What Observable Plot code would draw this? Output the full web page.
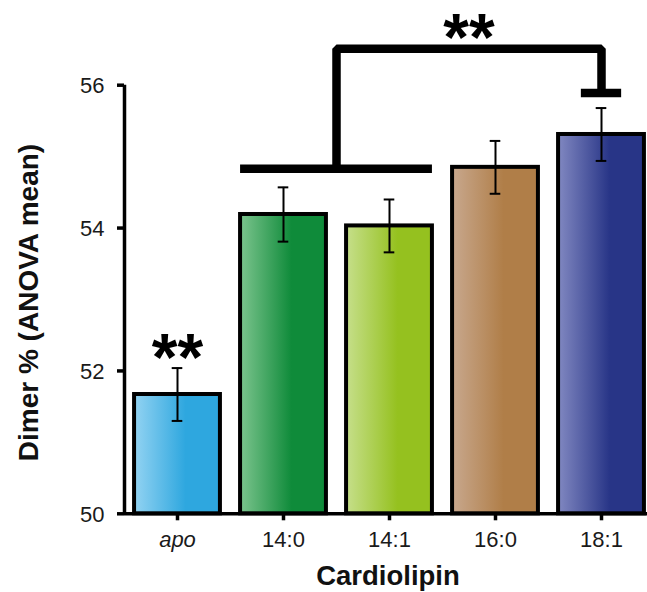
<!DOCTYPE html>
<html>
<head>
<meta charset="utf-8">
<script src="https://cdn.jsdelivr.net/npm/d3@7"></script>
<script src="https://cdn.jsdelivr.net/npm/@observablehq/plot@0.6"></script>
<style>
  html, body { margin: 0; padding: 0; background: #fff; }
  #chart svg { display: block; font-family: "Liberation Sans", Arial, sans-serif; }
</style>
</head>
<body>
<div id="chart"></div>
<script>
// ---- data ----
const categories = ["apo", "14:0", "14:1", "16:0", "18:1"];
const means = [51.67, 54.19, 54.03, 54.85, 55.31];
const errors = [0.37, 0.38, 0.37, 0.37, 0.37];
const lightColors = ["#93d3f2", "#7cc48e", "#c6df8b", "#c8a88e", "#8188c1"];
const darkColors = ["#2ea7df", "#0f8b3a", "#95c11f", "#b07e48", "#283587"];
const yTicks = [50, 52, 54, 56];
const yLabel = "Dimer % (ANOVA mean)";
const xLabel = "Cardiolipin";
const stars = "**";
// significance annotations (data units)
const groupBar = {from: 1, to: 2, y: 54.83};
const bracket = [{x: 1.5, y: 54.83}, {x: 1.5, y: 56.51}, {x: 4, y: 56.51}, {x: 4, y: 55.88}];
const targetBar = {at: 4, y: 55.89, half: 0.19};
const starTop = {x: 2.75, y: 56.85};
const starApo = {x: 0, y: 52.36};

const half = 0.405;
const cap = 0.05;
const rows = categories.map((c, i) => ({
  cat: c, i, mean: means[i], err: errors[i],
  lo: means[i] - errors[i], hi: means[i] + errors[i],
  x1: i - half, x2: i + half, fill: `url(#grad${i})`
}));

function defs() {
  const ns = "http://www.w3.org/2000/svg";
  const d = document.createElementNS(ns, "defs");
  categories.forEach((c, i) => {
    const g = document.createElementNS(ns, "linearGradient");
    g.setAttribute("id", `grad${i}`);
    g.setAttribute("x1", "0"); g.setAttribute("x2", "1");
    g.setAttribute("y1", "0"); g.setAttribute("y2", "0");
    [[0, lightColors[i]], [0.6, darkColors[i]], [1, darkColors[i]]].forEach(([o, col]) => {
      const s = document.createElementNS(ns, "stop");
      s.setAttribute("offset", o);
      s.setAttribute("stop-color", col);
      g.appendChild(s);
    });
    d.appendChild(g);
  });
  return d;
}

const W = 647, H = 592;
const chart = Plot.plot({
  width: W, height: H,
  marginLeft: 124, marginRight: 0, marginTop: 84.7, marginBottom: H - 513.3,
  x: {type: "linear", domain: [-0.5, 4.5], range: [124, 654], axis: null},
  y: {domain: [50, 56], range: [513.3, 84.7], axis: null},
  style: {fontFamily: "Liberation Sans, Arial, sans-serif", overflow: "hidden"},
  marks: [
    defs,
    // bars
    ...rows.map(r => Plot.rectY([r], {x1: "x1", x2: "x2", y1: 50, y2: "mean", fill: r.fill, stroke: "black", strokeWidth: 4})),
    // error bars
    Plot.ruleX(rows, {x: "i", y1: "lo", y2: "hi", stroke: "black", strokeWidth: 2}),
    Plot.ruleY(rows, {y: "lo", x1: d => d.i - cap, x2: d => d.i + cap, stroke: "black", strokeWidth: 2}),
    Plot.ruleY(rows, {y: "hi", x1: d => d.i - cap, x2: d => d.i + cap, stroke: "black", strokeWidth: 2}),
    // axes lines
    Plot.ruleX([-0.5], {y1: 50, y2: 56, stroke: "black", strokeWidth: 3.5}),
    Plot.ruleY([50], {x1: -0.5, x2: 4.5, stroke: "black", strokeWidth: 3.5}),
    // y ticks
    Plot.ruleY(yTicks, {y: d => d, x1: -0.5 - 7/106, x2: -0.5, stroke: "black", strokeWidth: 3.5}),
    Plot.text(yTicks, {x: -0.5, y: d => d, dx: -20, dy: 1, textAnchor: "end", text: d => String(d), fontSize: 22, fill: "#1a1a1a"}),
    // x ticks
    Plot.ruleX(rows, {x: "i", y1: 50, y2: 50 - 7/71.43, stroke: "black", strokeWidth: 3.5}),
    Plot.text(rows.filter(r => r.i === 0), {x: "i", y: 50, dy: 26, text: "cat", fontSize: 22, fontStyle: "italic", fill: "#1a1a1a"}),
    Plot.text(rows.filter(r => r.i !== 0), {x: "i", y: 50, dy: 26, text: "cat", fontSize: 22, fill: "#1a1a1a"}),
    // axis titles
    Plot.text([yLabel], {frameAnchor: "left", textAnchor: "middle", lineAnchor: "middle", dx: -95, dy: 3, rotate: -90, text: d => d, fontSize: 28, fontWeight: "bold", fill: "#111"}),
    Plot.text([xLabel], {frameAnchor: "bottom", textAnchor: "middle", lineAnchor: "middle", dx: 2, dy: 62, text: d => d, fontSize: 27.5, fontWeight: "bold", fill: "#111"}),
    // significance brackets
    Plot.ruleY([groupBar], {y: "y", x1: d => d.from - half, x2: d => d.to + half, stroke: "black", strokeWidth: 8.5}),
    Plot.line(bracket, {x: "x", y: "y", stroke: "black", strokeWidth: 8.5, strokeLinejoin: "miter", strokeLinecap: "butt"}),
    Plot.ruleY([targetBar], {y: "y", x1: d => d.at - d.half, x2: d => d.at + d.half, stroke: "black", strokeWidth: 8.5}),
    Plot.text([starTop, starApo], {x: "x", y: "y", text: () => stars, fontSize: 66, fontWeight: "bold", lineAnchor: "middle", dy: 14, fill: "black"})
  ]
});
document.getElementById("chart").appendChild(chart);
</script>
</body>
</html>
